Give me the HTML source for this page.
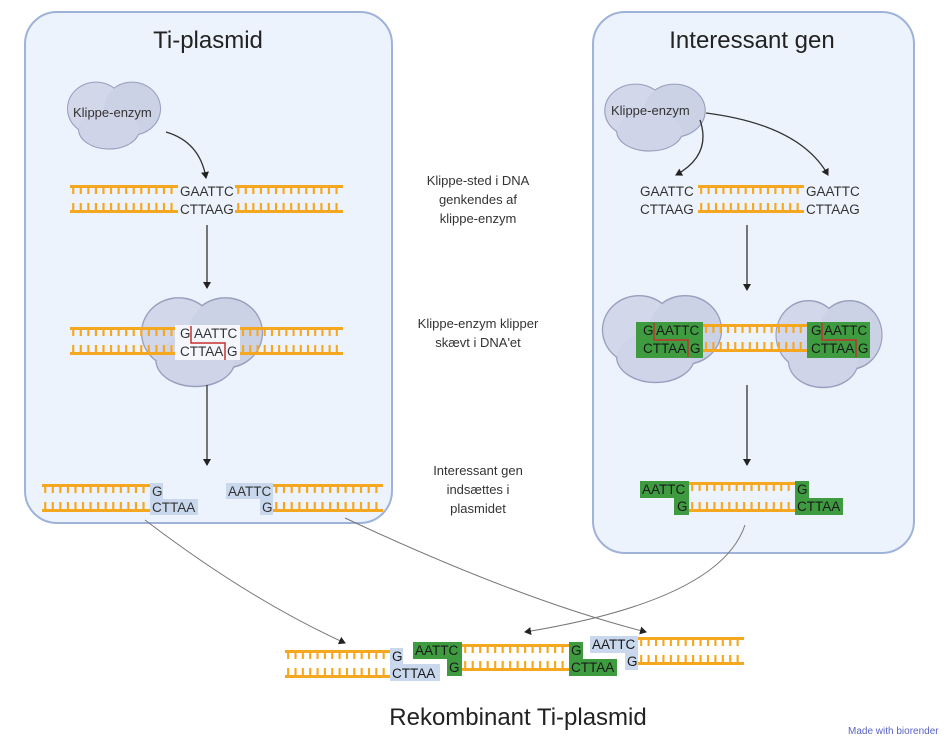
<!DOCTYPE html>
<html><head><meta charset="utf-8"><style>
body{margin:0;background:#fff;}
svg{display:block;font-family:"Liberation Sans",Arial,sans-serif;}
</style></head><body>
<svg width="950" height="742" viewBox="0 0 950 742" xmlns="http://www.w3.org/2000/svg">
<defs>
<marker id="ah" markerWidth="8" markerHeight="8" refX="6" refY="4" orient="auto" markerUnits="userSpaceOnUse"><path d="M0,0 L7,4 L0,8 Z" fill="#222"/></marker>
<g id="st"><line x1="0" y1="1.5" x2="100" y2="1.5" stroke="#f5a81f" stroke-width="3"/><line x1="2" y1="5" x2="100" y2="5" stroke="#f5a81f" stroke-width="8" stroke-dasharray="2 5"/></g>
<g id="sb"><line x1="0" y1="10.5" x2="100" y2="10.5" stroke="#f5a81f" stroke-width="3"/><line x1="2" y1="6" x2="100" y2="6" stroke="#f5a81f" stroke-width="8" stroke-dasharray="2 5"/></g>
<g id="blob">
<ellipse cx="-18" cy="-5" rx="28" ry="24" fill="none" stroke="#979fbd" stroke-width="2"/>
<ellipse cx="18" cy="-5" rx="28" ry="24" fill="none" stroke="#979fbd" stroke-width="2"/>
<ellipse cx="-5" cy="14" rx="30" ry="18" fill="none" stroke="#979fbd" stroke-width="2"/>
<ellipse cx="-18" cy="-5" rx="28" ry="24" fill="#d2d7ea"/>
<ellipse cx="18" cy="-5" rx="28" ry="24" fill="#ccd2e6"/>
<ellipse cx="-5" cy="14" rx="30" ry="18" fill="#cfd4e8"/>
</g>
</defs>
<rect x="25" y="12" width="367" height="511" rx="32" fill="#ecf3fc" stroke="#9fb2da" stroke-width="2"/>
<rect x="593" y="12" width="321" height="541" rx="32" fill="#ecf3fc" stroke="#9fb2da" stroke-width="2"/>
<text x="208" y="48" font-size="24" text-anchor="middle" fill="#222">Ti-plasmid</text>
<text x="752" y="48" font-size="24" text-anchor="middle" fill="#222">Interessant gen</text>

<!-- LEFT -->
<use href="#blob" transform="translate(114,114) scale(1,1.08)"/>
<text x="73" y="117" font-size="13" fill="#333">Klippe-enzym</text>
<path d="M166,132 Q200,142 206,178" fill="none" stroke="#333" stroke-width="1.3" marker-end="url(#ah)"/>
<use href="#st" transform="translate(70,185) scale(1.08,1)"/>
<use href="#sb" transform="translate(70,201) scale(1.08,1)"/>
<g font-size="13.5" fill="#333">
<text x="180" y="196">GAATTC</text>
<text x="180" y="214">CTTAAG</text>
</g>
<use href="#st" transform="translate(235,185) scale(1.08,1)"/>
<use href="#sb" transform="translate(235,201) scale(1.08,1)"/>
<line x1="207" y1="225" x2="207" y2="288" stroke="#333" stroke-width="1.3" marker-end="url(#ah)"/>
<use href="#blob" transform="translate(202,340) scale(1.3,1.43)"/>
<use href="#st" transform="translate(70,327) scale(1.08,1)"/>
<use href="#sb" transform="translate(70,343) scale(1.08,1)"/>
<use href="#st" transform="translate(240,327) scale(1.03,1)"/>
<use href="#sb" transform="translate(240,343) scale(1.03,1)"/>
<rect x="175" y="325" width="65" height="35" fill="#f4f6fb"/>
<g font-size="13.5" fill="#333">
<text x="180" y="338">G</text><text x="194" y="338">AATTC</text>
<text x="180" y="356">CTTAA</text><text x="227" y="356">G</text>
</g>
<path d="M191,326 V343 H225 V360" fill="none" stroke="#c9302c" stroke-width="1.5"/>
<line x1="207" y1="385" x2="207" y2="465" stroke="#333" stroke-width="1.3" marker-end="url(#ah)"/>
<use href="#st" transform="translate(42,484) scale(1.08,1)"/>
<use href="#sb" transform="translate(42,500) scale(1.08,1)"/>
<rect x="150" y="483" width="13" height="16" fill="#c9d8ec"/>
<rect x="150" y="499" width="48" height="16" fill="#c9d8ec"/>
<rect x="226" y="483" width="47" height="16" fill="#c9d8ec"/>
<rect x="260" y="499" width="13" height="16" fill="#c9d8ec"/>
<g font-size="13.5" fill="#333">
<text x="152" y="496">G</text><text x="152" y="512">CTTAA</text>
<text x="228" y="496">AATTC</text><text x="262" y="512">G</text>
</g>
<use href="#st" transform="translate(273,484) scale(1.1,1)"/>
<use href="#sb" transform="translate(273,500) scale(1.1,1)"/>

<g font-size="13" fill="#333" text-anchor="middle">
<text x="478" y="185">Klippe-sted i DNA</text><text x="478" y="204">genkendes af</text><text x="478" y="223">klippe-enzym</text>
<text x="478" y="328">Klippe-enzym klipper</text><text x="478" y="347">skævt i DNA'et</text>
<text x="478" y="475">Interessant gen</text><text x="478" y="494">indsættes i</text><text x="478" y="513">plasmidet</text>
</g>

<!-- RIGHT -->
<use href="#blob" transform="translate(655,116) scale(1.08,1.08)"/>
<text x="611" y="115" font-size="13" fill="#333">Klippe-enzym</text>
<path d="M700,120 Q712,155 676,175" fill="none" stroke="#333" stroke-width="1.3" marker-end="url(#ah)"/>
<path d="M706,113 Q800,125 828,175" fill="none" stroke="#333" stroke-width="1.3" marker-end="url(#ah)"/>
<g font-size="13.5" fill="#333">
<text x="640" y="196">GAATTC</text>
<text x="640" y="214">CTTAAG</text>
<text x="806" y="196">GAATTC</text>
<text x="806" y="214">CTTAAG</text>
</g>
<use href="#st" transform="translate(698,185) scale(1.06,1)"/>
<use href="#sb" transform="translate(698,201) scale(1.06,1)"/>
<line x1="747" y1="225" x2="747" y2="290" stroke="#333" stroke-width="1.3" marker-end="url(#ah)"/>
<use href="#blob" transform="translate(662,337) scale(1.28,1.4)"/>
<use href="#blob" transform="translate(829,342) scale(1.14,1.4)"/>
<use href="#st" transform="translate(703,324) scale(1.04,1)"/>
<use href="#sb" transform="translate(703,340) scale(1.04,1)"/>
<rect x="636" y="322" width="67" height="36" fill="#3f9b40"/>
<rect x="807" y="322" width="63" height="36" fill="#3f9b40"/>
<g font-size="13.5" fill="#1a1a1a">
<text x="643" y="335">G</text><text x="656" y="335">AATTC</text><text x="643" y="353">CTTAA</text><text x="690" y="353">G</text>
<text x="811" y="335">G</text><text x="824" y="335">AATTC</text><text x="811" y="353">CTTAA</text><text x="858" y="353">G</text>
</g>
<path d="M654,323 V340 H688 V357" fill="none" stroke="#c9302c" stroke-width="1.5"/>
<path d="M822,323 V340 H856 V357" fill="none" stroke="#c9302c" stroke-width="1.5"/>
<line x1="747" y1="385" x2="747" y2="465" stroke="#333" stroke-width="1.3" marker-end="url(#ah)"/>
<rect x="640" y="481" width="49" height="17" fill="#3f9b40"/>
<rect x="674" y="498" width="15" height="17" fill="#3f9b40"/>
<rect x="795" y="481" width="14" height="17" fill="#3f9b40"/>
<rect x="795" y="498" width="48" height="17" fill="#3f9b40"/>
<use href="#st" transform="translate(689,482) scale(1.06,1)"/>
<use href="#sb" transform="translate(689,500) scale(1.06,1)"/>
<g font-size="13.5" fill="#1a1a1a">
<text x="642" y="494">AATTC</text><text x="677" y="511">G</text><text x="797" y="494">G</text><text x="797" y="511">CTTAA</text>
</g>

<path d="M145,520 Q250,600 345,643" fill="none" stroke="#777" stroke-width="1" marker-end="url(#ah)"/>
<path d="M345,518 Q520,600 646,632" fill="none" stroke="#777" stroke-width="1" marker-end="url(#ah)"/>
<path d="M745,525 Q720,600 525,632" fill="none" stroke="#777" stroke-width="1" marker-end="url(#ah)"/>

<!-- BOTTOM -->
<use href="#st" transform="translate(285,650) scale(1.05,1)"/>
<use href="#sb" transform="translate(285,666) scale(1.05,1)"/>
<rect x="390" y="648" width="13" height="16" fill="#c9d8ec"/>
<rect x="390" y="664" width="50" height="17" fill="#c9d8ec"/>
<rect x="413" y="642" width="49" height="17" fill="#3f9b40"/>
<rect x="447" y="659" width="15" height="17" fill="#3f9b40"/>
<use href="#st" transform="translate(462,644) scale(1.07,1)"/>
<use href="#sb" transform="translate(462,659) scale(1.07,1)"/>
<rect x="569" y="642" width="14" height="17" fill="#3f9b40"/>
<rect x="569" y="659" width="48" height="17" fill="#3f9b40"/>
<rect x="590" y="636" width="48" height="17" fill="#c9d8ec"/>
<rect x="625" y="653" width="13" height="17" fill="#c9d8ec"/>
<use href="#st" transform="translate(638,637) scale(1.06,1)"/>
<use href="#sb" transform="translate(638,653) scale(1.06,1)"/>
<g font-size="13.5" fill="#1a1a1a">
<text x="392" y="661">G</text><text x="392" y="678">CTTAA</text>
<text x="415" y="655">AATTC</text><text x="449" y="672">G</text>
<text x="571" y="655">G</text><text x="571" y="672">CTTAA</text>
<text x="592" y="649">AATTC</text><text x="627" y="666">G</text>
</g>
<text x="518" y="725" font-size="24" text-anchor="middle" fill="#222">Rekombinant Ti-plasmid</text>
<text x="848" y="734" font-size="10" fill="#5a62c4">Made with biorender</text>
</svg>
</body></html>
